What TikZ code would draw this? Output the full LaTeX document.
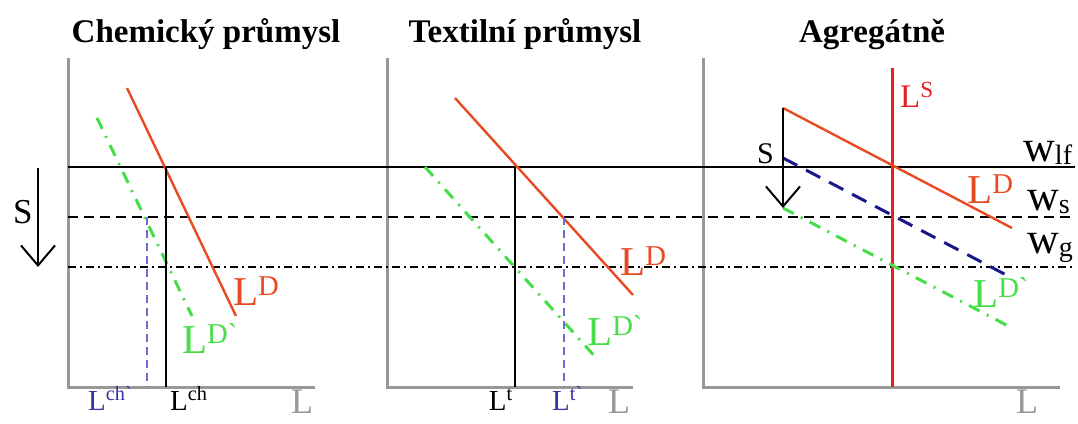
\documentclass[tikz,border=0pt]{standalone}
\usepackage{fontspec}
\setmainfont{Liberation Serif}
\usetikzlibrary{arrows.meta}
\definecolor{demandred}{RGB}{234,74,34}
\definecolor{supplyred}{RGB}{232,30,36}
\definecolor{shiftgreen}{RGB}{70,222,70}
\definecolor{axisgray}{RGB}{152,152,152}
\definecolor{labelblue}{RGB}{50,50,160}
\definecolor{dashblue}{RGB}{110,110,210}
\definecolor{navyblue}{RGB}{24,24,140}
\newcommand\wsub[1]{\raisebox{-3pt}{\fontsize{28}{28}\selectfont #1}}
\tikzset{
  paxis/.style   ={line width=3pt, axisgray},
  wlevel/.style  ={line width=1.3pt, black},
  wdash/.style   ={wlevel, dash pattern=on 10pt off 6pt},
  wdot/.style    ={wlevel, dash pattern=on 8pt off 4pt on 2pt off 4pt},
  demand/.style  ={line width=2.4pt, demandred},
  supply/.style  ={line width=3pt, supplyred},
  shifted/.style ={line width=3pt, shiftgreen, dash pattern=on 12pt off 8pt on 2pt off 8pt},
  drop/.style    ={line width=1.3pt, black},
  dropb/.style   ={line width=1.3pt, dashblue, dash pattern=on 8pt off 5pt},
  midshift/.style={line width=3pt, navyblue, dash pattern=on 16pt off 10pt},
  tax/.style     ={line width=2pt, -{Straight Barb[length=20pt, width=34pt, line width=2pt]}},
  ptitle/.style  ={inner sep=0pt, anchor=base, font=\fontsize{33}{33}\selectfont\bfseries},
  curvelab/.style={inner sep=0pt, anchor=base west, font=\fontsize{41}{41}\selectfont},
  footlab/.style ={inner sep=0pt, font=\fontsize{29}{29}\selectfont},
  axlab/.style   ={inner sep=0pt, anchor=base west, axisgray, font=\fontsize{36}{36}\selectfont},
  wlab/.style    ={inner sep=0pt, anchor=base west, font=\fontsize{44}{44}\selectfont},
}

\begin{document}
\begin{tikzpicture}[x=1pt, y=-1pt]
  \useasboundingbox (0,0) rectangle (1078,423);
  % axes of the three panels
  \foreach \ox/\ex in {68/315, 387/633, 703/1060}
    \draw[paxis] (\ox,58) -- (\ox,387) -- (\ex,387);
  % wage levels
  \draw[wlevel] (68,167) -- (1075,167);
  \draw[wdash]  (68,217) -- (1075,217);
  \draw[wdot]   (68,267) -- (1075,267);

  % chemicky prumysl
  \draw[shifted] (97,118) -- (192,316);
  \draw[demand] (127,88) -- (236,316);
  \draw[dropb] (147,217) -- (147,387);
  \draw[drop] (166,167) -- (166,387);
  \draw[tax] (38,168) -- (38,267);
  \node[ptitle] (chem) at (206,42) {Chemický průmysl};
  \node[curvelab, demandred] (chemD) at (233,305) {L\textsuperscript{D}};
  \node[curvelab, shiftgreen] (chemDs) at (182,353) {L\textsuperscript{D\textasciigrave}};
  \node[footlab, anchor=base west, labelblue] (chemLs) at (88,410) {L\textsuperscript{ch\textasciigrave}};
  \node[footlab, anchor=base west] (chemL) at (170,410) {L\textsuperscript{ch}};
  \node[axlab] (chemAx) at (291,413) {L};
  \node[inner sep=0pt, anchor=base west, font=\fontsize{35}{35}\selectfont] (chemS) at (13,223) {S};

  % textilni prumysl
  \draw[shifted] (425,167) -- (598,360);
  \draw[demand] (455,98) -- (633,295);
  \draw[drop] (515,167) -- (515,387);
  \draw[dropb] (564,217) -- (564,387);
  \node[ptitle] (text) at (525,42) {Textilní průmysl};
  \node[curvelab, demandred] (textD) at (620,275) {L\textsuperscript{D}};
  \node[curvelab, shiftgreen] (textDs) at (587,345) {L\textsuperscript{D\textasciigrave}};
  \node[footlab, anchor=base east] (textL) at (513,410) {L\textsuperscript{t}};
  \node[footlab, anchor=base west, labelblue] (textLs) at (552,410) {L\textsuperscript{t\textasciigrave}};
  \node[axlab] (textAx) at (608,413) {L};

  % agregatne
  \draw[supply] (892,68) -- (892,387);
  \draw[shifted] (783,208) -- (1012,328);
  \draw[midshift] (783,158) -- (1012,278);
  \draw[demand] (783,108) -- (1012,228);
  \draw[tax] (783,108) -- (783,208);
  \node[ptitle] (agg) at (872,42) {Agregátně};
  \node[inner sep=0pt, anchor=base west, supplyred, font=\fontsize{33}{33}\selectfont] (aggS) at (900,107) {L\textsuperscript{S}};
  \node[inner sep=0pt, anchor=base west, font=\fontsize{30}{30}\selectfont] (aggTax) at (757,163) {S};
  \node[curvelab, demandred] (aggD) at (967,203) {L\textsuperscript{D}};
  \node[curvelab, shiftgreen] (aggDs) at (973,307) {L\textsuperscript{D\textasciigrave}};
  \node[wlab] (wlf) at (1023,161) {w\wsub{lf}};
  \node[wlab] (ws) at (1027,210) {w\wsub{s}};
  \node[wlab] (wg) at (1027,253) {w\wsub{g}};
  \node[axlab] (aggAx) at (1016,413) {L};
\end{tikzpicture}
\end{document}
